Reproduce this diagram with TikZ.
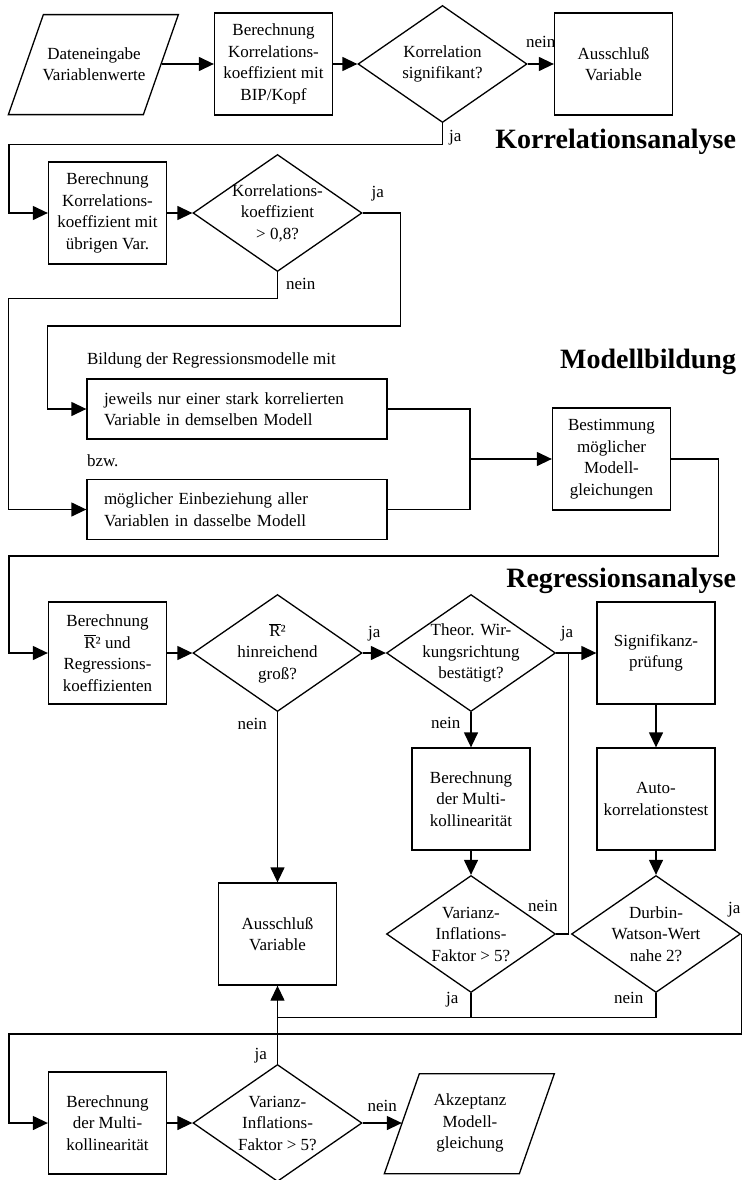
\documentclass[tikz,border=0pt]{standalone}
\usepackage{fontspec}
\setmainfont{Liberation Serif}
\usetikzlibrary{arrows.meta,shapes.geometric,calc}
\tikzset{
    block/.style = {draw, rectangle,
        minimum height=102pt,
        minimum width=118pt, align=center, inner sep=2pt},
    wide/.style = {draw, rectangle, minimum height=60pt,
        text width=266pt, inner xsep=17pt, align=left},
    decision/.style = {draw, diamond, aspect=1.44,
        minimum width=169pt, minimum height=117pt, inner sep=-4pt, align=center},
    io/.style = {minimum width=135pt, minimum height=100pt, align=center},
    lab/.style = {inner sep=0pt},
    plain/.style = {anchor=base west, inner sep=0pt},
    heading/.style = {anchor=base east, font=\fontsize{28}{30}\selectfont\bfseries}
}
\def\slanted{%
    ++(-17.5,0) -- ++(135,0) -- ++(35,100) -- ++(-135,0) -- cycle
}
\begin{document}
\begin{tikzpicture}[x=1pt, y=1pt, >={Triangle[length=15pt,width=14pt]}, line width=1.3pt,
    font=\fontsize{17}{21.5}\selectfont]
    \useasboundingbox (0,0) rectangle (743,-1180);
    % Korrelationsanalyse
    \node [io] (in1) at (94,-64) {Dateneingabe\\Variablenwerte};
    \draw (in1.south west) \slanted;
    \node [block, right of=in1, node distance=179.5pt] (b1) {Berechnung\\Korrelations-\\koeffizient mit\\BIP/Kopf};
    \node [decision, right of=b1, node distance=169pt] (d1) {Korrelation\\signifikant?};
    \node [block, right of=d1, node distance=171pt] (x1) {Ausschluß\\Variable};
    \node [block] (b2) at (107.5,-213) {Berechnung\\Korrelations-\\koeffizient mit\\übrigen Var.};
    \node [decision, right of=b2, node distance=170pt] (d2) {Korrelations-\\koeffizient\\> 0,8?};
    \node [heading] (h1) at (740,-149) {Korrelationsanalyse};
    \draw[->] (in1) -- (b1);
    \draw[->] (b1) -- (d1);
    \draw[->] (d1) -- node[lab, anchor=base, yshift=16pt] {nein} (x1);
    \draw[->] (d1.south) -- node[lab, pos=0.88, anchor=base west, xshift=6pt] {ja} ++(0,-21) -| ([xshift=-39pt]b2.west) -- (b2.west);
    \draw[->] (b2) -- (d2);
    % Modellbildung
    \node [wide] (m1) at (237,-409) {jeweils nur einer stark korrelierten\\Variable in demselben Modell};
    \node [wide, below of=m1, node distance=100.5pt] (m2) {möglicher Einbeziehung aller\\Variablen in dasselbe Modell};
    \node [plain] (bild) at ([yshift=14pt]m1.north west) {Bildung der Regressionsmodelle mit};
    \node [plain] (bzw) at ([yshift=12.5pt]m2.north west) {bzw.};
    \node [block] (b3) at (611.5,-459) {Bestimmung\\möglicher\\Modell-\\gleichungen};
    \node [heading] (h2) at (740,-368) {Modellbildung};
    \draw[->] (d2.east) -- node[lab, pos=0.4, anchor=base, yshift=16pt] {ja} ++(38,0) -- ++(0,-113) -| ([xshift=-39pt]m1.west) -- (m1.west);
    \draw[->] (d2.south) -- node[lab, pos=0.67, anchor=base west, xshift=8pt] {nein} ++(0,-26) -| ([xshift=-78pt]m2.west) -- (m2.west);
    \coordinate (jn) at ([xshift=-82pt]b3.west);
    \draw (m1.east) -| (jn);
    \draw (m2.east) -| (jn);
    \draw[->] (jn) -- (b3);
    % Regressionsanalyse
    \node [block] (b4) at (107.5,-653) {Berechnung\\$\overline{\hbox{R}}$² und\\Regressions-\\koeffizienten};
    \node [decision, right of=b4, node distance=170pt] (d3) {$\overline{\hbox{R}}$²\\hinreichend\\groß?};
    \node [decision, right of=d3, node distance=193.5pt] (d4) {Theor. Wir-\\kungsrichtung\\bestätigt?};
    \node [block, right of=d4, node distance=185pt] (b5) {Signifikanz-\\prüfung};
    \node [block, below of=d4, node distance=146pt] (b6) {Berechnung\\der Multi-\\kollinearität};
    \node [block, below of=b5, node distance=146pt] (b7) {Auto-\\korrelationstest};
    \node [decision, below of=b6, node distance=135pt] (d5) {Varianz-\\Inflations-\\Faktor > 5?};
    \node [decision, below of=b7, node distance=135pt] (d6) {Durbin-\\Watson-Wert\\nahe 2?};
    \node [block, below of=d3, node distance=281pt] (x2) {Ausschluß\\Variable};
    \node [block] (b8) at (107.5,-1123) {Berechnung\\der Multi-\\kollinearität};
    \node [decision, right of=b8, node distance=170pt] (d7) {Varianz-\\Inflations-\\Faktor > 5?};
    \node [io, right of=d7, node distance=192.5pt] (out1) {Akzeptanz\\Modell-\\gleichung};
    \draw (out1.south west) \slanted;
    \node [heading] (h3) at (740,-587) {Regressionsanalyse};
    \draw[->] (b3.east) -- ++(47,0) -- ++(0,-97) -| ([xshift=-39pt]b4.west) -- (b4.west);
    \draw[->] (b4) -- (d3);
    \draw[->] (d3) -- node[lab, anchor=base, yshift=16pt] {ja} (d4);
    \coordinate (jc) at ([xshift=12pt]d4.east);
    \draw[->] (d4) -- node[lab, pos=0.27, anchor=base, yshift=16pt] {ja} (b5);
    \draw (d5.east) -| node[lab, pos=0.54, anchor=base east, xshift=-10pt] {nein} (jc);
    \draw[->] (d3) -- node[lab, pos=0.1, anchor=base east, xshift=-10pt] {nein} (x2);
    \draw[->] (d4) -- node[lab, pos=0.46, anchor=base east, xshift=-10pt] {nein} (b6);
    \draw[->] (b5) -- (b7);
    \draw[->] (b6) -- (d5);
    \draw[->] (b7) -- (d6);
    \coordinate (bus) at ([yshift=-24pt]d5.south);
    \draw (d5.south) -- node[lab, pos=0.45, anchor=base east, xshift=-12pt] {ja} (bus);
    \draw (d6.south) |- node[lab, pos=0.22, anchor=base east, xshift=-12pt] {nein} (x2.south |- bus);
    \draw[->] (d7) -- node[lab, pos=0.06, anchor=base east, xshift=-10pt] {ja} (x2);
    \draw[->] (d6.east) node[lab, anchor=base east, yshift=21pt] {ja} -- ++(0,-100) -| ([xshift=-39pt]b8.west) -- (b8.west);
    \draw[->] (b8) -- (d7);
    \draw[->] (d7) -- node[lab, anchor=base, yshift=12pt] {nein} (out1);
\end{tikzpicture}
\end{document}
